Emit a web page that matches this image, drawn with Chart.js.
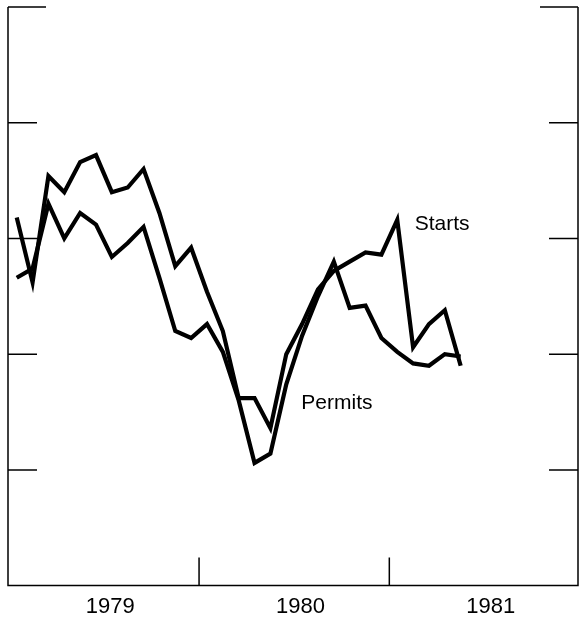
<!DOCTYPE html>
<html>
<head>
<meta charset="utf-8">
<script src="https://cdn.jsdelivr.net/npm/chart.js@4/dist/chart.umd.min.js"></script>
<style>
  html, body { margin: 0; padding: 0; background: #fff; }
  canvas { display: block; }
</style>
</head>
<body>
<canvas id="chart" width="582" height="618"></canvas>
<script>
const months = ['1979-01','1979-02','1979-03','1979-04','1979-05','1979-06','1979-07','1979-08','1979-09','1979-10','1979-11','1979-12',
                '1980-01','1980-02','1980-03','1980-04','1980-05','1980-06','1980-07','1980-08','1980-09','1980-10','1980-11','1980-12',
                '1981-01','1981-02','1981-03','1981-04','1981-05'];
const starts = [1.59,1.31,1.77,1.70,1.83,1.86,1.70,1.72,1.80,1.61,1.38,1.46,
                1.27,1.10,0.81,0.81,0.68,1.00,1.13,1.28,1.36,1.40,1.44,1.43,
                1.58,1.03,1.13,1.19,0.95];
const permits = [1.33,1.37,1.65,1.50,1.61,1.56,1.42,1.48,1.55,1.33,1.10,1.07,
                 1.13,1.01,0.80,0.53,0.57,0.87,1.08,1.25,1.40,1.20,1.21,1.07,
                 1.01,0.96,0.95,1.00,0.99];
const yearLabels = ['1979', '1980', '1981'];
const yTicks = [0.5, 1.0, 1.5, 2.0, 2.5];

// month string -> position in months from Jan 1979, plotted mid-month
function monthPos(m) {
  const [y, mo] = m.split('-').map(Number);
  return (y - 1979) * 12 + (mo - 1) + 0.5;
}
const toPoints = arr => arr.map((v, i) => ({ x: monthPos(months[i]), y: v }));

const FONT = '"Liberation Sans", Arial, Helvetica, sans-serif';

const frame = {
  id: 'frame',
  afterDatasetsDraw(chart) {
    const { ctx, chartArea: a, scales: { x, y } } = chart;
    ctx.save();
    ctx.strokeStyle = '#000';
    ctx.lineWidth = 1.5;
    ctx.beginPath();
    ctx.moveTo(a.left, a.top); ctx.lineTo(a.left, a.bottom);
    ctx.lineTo(a.right, a.bottom); ctx.lineTo(a.right, a.top);
    yTicks.forEach(v => {
      const py = y.getPixelForValue(v);
      const len = v === 2.5 ? 38 : 29;
      ctx.moveTo(a.left, py); ctx.lineTo(a.left + len, py);
      ctx.moveTo(a.right, py); ctx.lineTo(a.right - len, py);
    });
    [12, 24].forEach(v => {
      const px = x.getPixelForValue(v);
      ctx.moveTo(px, a.bottom); ctx.lineTo(px, a.bottom - 28);
    });
    ctx.stroke();

    ctx.fillStyle = '#000';
    ctx.font = '21px ' + FONT;
    ctx.textBaseline = 'middle';
    ctx.fillText('Starts', x.getPixelForValue(25.6), y.getPixelForValue(1.56));
    ctx.fillText('Permits', x.getPixelForValue(18.45), y.getPixelForValue(0.79));
    ctx.restore();
  }
};

new Chart(document.getElementById('chart'), {
  type: 'line',
  data: {
    datasets: [
      { label: 'Starts', data: toPoints(starts), borderColor: '#000', borderWidth: 4.2, pointRadius: 0, tension: 0, fill: false },
      { label: 'Permits', data: toPoints(permits), borderColor: '#000', borderWidth: 4.2, pointRadius: 0, tension: 0, fill: false }
    ]
  },
  options: {
    responsive: false,
    animation: false,
    devicePixelRatio: 1,
    layout: { padding: { left: 8, right: 4, top: 7, bottom: -10 } },
    plugins: { legend: { display: false }, tooltip: { enabled: false } },
    scales: {
      x: {
        type: 'linear',
        min: -0.05,
        max: 35.9,
        grid: { display: false, drawTicks: false },
        border: { display: false },
        afterBuildTicks: s => { s.ticks = yearLabels.map((_, i) => ({ value: i * 12 + 6.4 })); },
        ticks: {
          padding: 8,
          color: '#000',
          font: { family: FONT, size: 22 },
          callback: (v, i) => yearLabels[i]
        }
      },
      y: { display: false, min: 0, max: 2.5 }
    }
  },
  plugins: [frame]
});
</script>
</body>
</html>
